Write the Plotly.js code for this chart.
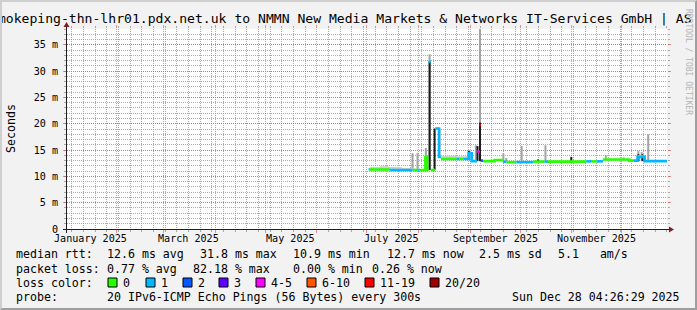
<!DOCTYPE html>
<html><head><meta charset="utf-8">
<script src="https://cdn.plot.ly/plotly-3.0.1.min.js"></script>
<style>
html,body{margin:0;padding:0;background:#f2f2f2;}
#wrap{position:relative;width:697px;height:310px;overflow:hidden;}
#chart{position:absolute;left:0;top:0;width:697px;height:310px;}
#frame{position:absolute;left:0;top:0;width:697px;height:310px;box-sizing:border-box;border-style:solid;border-width:2px;border-color:#cfcfcf #9e9e9e #9e9e9e #cfcfcf;pointer-events:none;}
</style></head><body>
<div id="wrap"><div id="chart"></div><div id="frame"></div></div>
<script>
// ---------- data ----------
const titleText = 'smokeping-thn-lhr01.pdx.net.uk to NMMN New Media Markets & Networks IT-Services GmbH | AS';
const xRange = ['2025-01-02 04:26:29', '2025-12-28 04:26:29'];
const monthLabels = ['January 2025','March 2025','May 2025','July 2025','September 2025','November 2025'];
const monthLabelDates = ['2025-01-16','2025-03-16','2025-05-16','2025-07-16','2025-09-16','2025-11-16'];
const yTickVals = [0,5,10,15,20,25,30,35];
const yTickText = ['0','5 m','10 m','15 m','20 m','25 m','30 m','35 m'];

// median rtt (ms) per step, loss bucket index, smoke top (ms)
const medDates = ['2025-07-02 04:00','2025-07-02 20:00','2025-07-09 00:00','2025-07-14 18:00','2025-07-22 00:00',
  '2025-07-28 12:00','2025-07-31 12:00','2025-08-01 12:00','2025-08-05 06:00','2025-08-06 06:00',
  '2025-08-07 06:00','2025-08-08 12:00','2025-08-11 04:00','2025-08-13 10:00','2025-08-14 12:00',
  '2025-08-24 00:00','2025-08-25 12:00','2025-08-28 00:00','2025-08-31 06:00','2025-09-02 00:00',
  '2025-09-05 06:00','2025-09-06 18:00','2025-09-07 12:00','2025-09-08 18:00','2025-09-15 18:00',
  '2025-09-20 18:00','2025-09-22 18:00','2025-09-28 18:00','2025-10-08 18:00','2025-10-15 18:00',
  '2025-10-17 18:00','2025-11-09 18:00','2025-11-13 00:00','2025-11-16 00:00','2025-11-19 18:00',
  '2025-12-05 12:00','2025-12-08 00:00','2025-12-10 12:00','2025-12-14 18:00','2025-12-28 04:26'];
const medValues = [11.3,11.3,11.3,11.2,11.2, 11.2,11.2,11.2,13.6,11.2, 31.8,11.2,19.1,13.7,13.3,
  13.3,13.3,13.3,14.4,12.9, 14.7,19.7,13.0,12.9,13.1, 12.8,12.7,12.7,12.8,12.8,
  12.8,12.85,12.85,12.85,13.2, 13.0,13.0,13.7,12.9,12.9];
const medLoss = [1,0,0,1,1, 0,1,0,0,0, 1,0,1,1,0, 1,0,1,1,1, 4,6,2,0,0, 1,0,1,0,1, 0,1,0,1,0, 0,1,1,1,1];
const smokeTop = [11.5,11.8,11.9,11.8,11.6, 11.5,11.4,11.4,13.6,11.4, 31.9,11.4,19.3,13.9,13.9,
  13.8,13.8,13.8,14.6,13.0, 14.8,19.8,13.1,13.1,13.2, 13.0,12.9,12.9,12.9,12.9,
  12.9,13.0,13.0,13.0,13.3, 13.1,13.1,14.0,13.0,13.0];

// smoke spikes (light grey) and dense smoke core (dark)
const spikeDates = ['2025-07-28 12:00','2025-07-31 12:00','2025-08-05 12:00','2025-08-07 18:00','2025-08-19 18:00',
  '2025-08-30 12:00','2025-08-31 12:00','2025-09-04 12:00','2025-09-07 00:00','2025-09-21 00:00',
  '2025-09-22 18:00','2025-10-02 00:00','2025-10-16 06:00','2025-11-21 12:00','2025-12-02 06:00',
  '2025-12-11 00:00','2025-12-13 00:00','2025-12-16 22:00'];
const spikeLo = [11.2,11.2,11.2,11.2,13.3, 13.3,13.3,12.9,12.9,12.8, 12.7,12.8,12.8,13.2,13.2, 12.9,12.9,12.9];
const spikeHi = [14.4,14.4,15.4,33.2,13.9, 13.9,15.0,15.9,38.0,14.4, 13.5,15.75,15.9,14.0,13.6, 14.8,14.6,18.0];
const coreDates = ['2025-08-05 12:00','2025-08-07 18:00','2025-08-10 18:00','2025-08-13 12:00','2025-08-19 18:00',
  '2025-08-31 06:00','2025-09-05 12:00','2025-09-07 00:00','2025-10-11 18:00','2025-10-31 18:00',
  '2025-12-11 00:00','2025-12-13 12:00'];
const coreLo = [11.2,11.2,11.2,13.5,13.3, 13.1,12.9,12.9,12.8,12.8, 12.9,12.9];
const coreHi = [13.6,31.9,19.1,19.1,13.8, 14.8,15.75,20.2,13.2,13.7, 14.2,14.2];

// legend
const lossLabels = ['0','1','2','3','4-5','6-10','11-19','20/20'];
const lossColors = ['#26ff00','#00b8ff','#0059ff','#5e00ff','#ff00ff','#ff5500','#ff0000','#a10000'];
const rttStats = ['12.6 ms avg','31.8 ms max','10.9 ms min','12.7 ms now','2.5 ms sd','5.1   am/s'];
const lossStats = ['0.77 % avg','82.18 % max','0.00 % min','0.26 % now'];
const probeText = '20 IPv6-ICMP Echo Pings (56 Bytes) every 300s';
const stampText = 'Sun Dec 28 04:26:29 2025';

// ---------- drawing ----------
const MONO = 'DejaVu Sans Mono';
const X0 = 67, XS = 600, Y0 = 229, YS = 200;
const px = x => (x - X0) / XS;
const py = y => (Y0 - y) / YS;
const DAY = 86400000;

const traces = [];
// smoke band
traces.push({type:'scatter', mode:'lines', x:medDates, y:medValues, line:{width:0, shape:'hv'}, hoverinfo:'skip'});
traces.push({type:'scatter', mode:'lines', x:medDates, y:smokeTop, line:{width:0, shape:'hv'}, fill:'tonexty', fillcolor:'#cfcfcf', hoverinfo:'skip'});
// spikes
traces.push({type:'bar', x:spikeDates, base:spikeLo, y:spikeHi.map((h,i)=>h-spikeLo[i]), width:1.2*DAY,
  marker:{color:'#a3a3a3', line:{width:0}}, hoverinfo:'skip'});
traces.push({type:'bar', x:coreDates, base:coreLo, y:coreHi.map((h,i)=>h-coreLo[i]), width:1.2*DAY,
  marker:{color:'#1c1c1c', line:{width:0}}, hoverinfo:'skip'});
// median: one line per loss colour, each step only joined to neighbouring steps of the same colour
const n = medDates.length;
lossColors.forEach((col, c) => {
  const xs = [], ys = [];
  for (let i = 0; i < n - 1; i++) {
    if (medLoss[i] !== c) continue;
    xs.push(medDates[i]); ys.push(medValues[i]);
    if (medLoss[i + 1] !== c || i + 1 === n - 1) {
      xs.push(medDates[i + 1]); ys.push(medValues[i]);
      xs.push(medDates[i + 1]); ys.push(null);
    }
  }
  if (xs.length) traces.push({type:'scatter', mode:'lines', x:xs, y:ys, connectgaps:false,
    line:{color:col, width:2.6, shape:'hv'}, hoverinfo:'skip'});
});

const shapes = [];
// axes + arrows
shapes.push({type:'line', xref:'paper', yref:'paper', x0:px(63), x1:px(671), y0:py(229.5), y1:py(229.5), line:{color:'#1f1f1f', width:1}});
shapes.push({type:'line', xref:'paper', yref:'paper', x0:px(66.5), x1:px(66.5), y0:py(233), y1:py(25), line:{color:'#1f1f1f', width:1}});
shapes.push({type:'path', xref:'paper', yref:'paper', path:`M ${px(669)} ${py(226.5)} L ${px(669)} ${py(232.5)} L ${px(674)} ${py(229.5)} Z`, fillcolor:'#801f1f', line:{width:0}});
shapes.push({type:'path', xref:'paper', yref:'paper', path:`M ${px(63.5)} ${py(27)} L ${px(69.5)} ${py(27)} L ${px(66.5)} ${py(22)} Z`, fillcolor:'#801f1f', line:{width:0}});
// loss colour boxes
const boxX = [108,146,183,219,256,307,365,430];
boxX.forEach((bx,i) => shapes.push({type:'rect', xref:'paper', yref:'paper', x0:px(bx), x1:px(bx+9), y0:py(287), y1:py(278),
  fillcolor:lossColors[i], line:{color:'#000', width:1}}));

const ann = [];
const txt = (x, y, t, opts={}) => ann.push(Object.assign({xref:'paper', yref:'paper', x:px(x), y:py(y), text:t, showarrow:false,
  xanchor:'left', yanchor:'middle', borderpad:0, borderwidth:0, font:{family:MONO, size:11.6, color:'#000'}}, opts));
// title (wider than the image, clipped at both sides as in the original)
txt(-10, 19, titleText, {font:{family:MONO, size:13.1, color:'#000'}});
// month labels
monthLabels.forEach((m,i) => ann.push({xref:'x', yref:'paper', x:monthLabelDates[i], y:py(238), text:m, showarrow:false,
  xanchor:'center', yanchor:'middle', borderpad:0, borderwidth:0, font:{family:MONO, size:10.1, color:'#000'}}));
// y title
txt(11, 129, 'Seconds', {xanchor:'center', textangle:-90});
// watermark
txt(689, 62, 'RRDTOOL / TOBI OETIKER', {xanchor:'center', textangle:90, font:{family:MONO, size:8, color:'#b4b4b4'}});
// legend lines
txt(16, 254, 'median rtt:');
[107.3,200,293.3,386.7,479.3,558.3].forEach((x,i) => txt(x, 254, rttStats[i]));
txt(16, 268.5, 'packet loss:');
[107.3,193.3,293.3,372.3].forEach((x,i) => txt(x, 268.5, lossStats[i]));
txt(16, 282.5, 'loss color:');
boxX.forEach((bx,i) => txt(bx + 15, 282.5, lossLabels[i]));
txt(16, 296.5, 'probe:');
txt(107.3, 296.5, probeText);
txt(680, 296.5, stampText, {xanchor:'right'});

const gridMaj = 'rgba(222,79,79,0.6)', gridMin = 'rgba(143,143,143,0.75)';
const layout = {
  width:697, height:310,
  paper_bgcolor:'#f2f2f2', plot_bgcolor:'#ffffff',
  margin:{l:67, r:30, t:29, b:81, pad:0},
  showlegend:false, barmode:'overlay', hovermode:false,
  font:{family:MONO, size:10.1, color:'#000'},
  xaxis:{type:'date', range:xRange, showline:false, zeroline:false, showticklabels:false,
    showgrid:true, gridcolor:gridMaj, griddash:'1px,1px', gridwidth:1, tick0:'2025-01-01', dtick:'M1',
    ticks:'outside', ticklen:3, tickcolor:gridMaj, tickwidth:1, mirror:'ticks',
    minor:{tick0:'2025-01-05', dtick:7*DAY, showgrid:true, gridcolor:gridMin, griddash:'1px,1px', gridwidth:1,
      ticks:'outside', ticklen:2, tickcolor:gridMin, tickwidth:1}},
  yaxis:{range:[0,38], showline:false, zeroline:false, tickmode:'array', tickvals:yTickVals, ticktext:yTickText,
    showgrid:true, gridcolor:gridMaj, griddash:'1px,1px', gridwidth:1,
    ticks:'outside', ticklen:3, tickcolor:gridMaj, tickwidth:1, mirror:'ticks', ticklabelstandoff:3,
    tickfont:{family:MONO, size:10.1, color:'#000'},
    minor:{tick0:0, dtick:1, showgrid:true, gridcolor:gridMin, griddash:'1px,1px', gridwidth:1,
      ticks:'outside', ticklen:2, tickcolor:gridMin, tickwidth:1}},
  shapes:shapes, annotations:ann
};
Plotly.newPlot('chart', traces, layout, {staticPlot:true, displayModeBar:false});
</script></body></html>
